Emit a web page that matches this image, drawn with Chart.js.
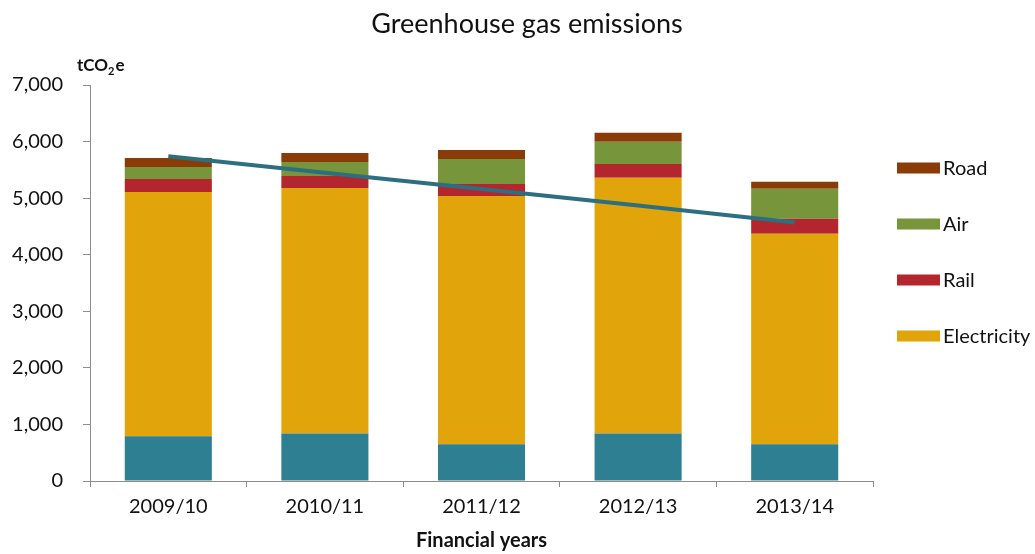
<!DOCTYPE html>
<html>
<head>
<meta charset="utf-8">
<title>Greenhouse gas emissions</title>
<script src="https://cdn.jsdelivr.net/npm/chart.js@4/dist/chart.umd.min.js"></script>
<style>
    html, body {
        margin: 0;
        padding: 0;
        background: #ffffff;
    }
    #chartWrap {
        position: relative;
        width: 1035px;
        height: 554px;
    }
</style>
</head>
<body>
<div id="chartWrap">
    <canvas id="chartCanvas" width="1035" height="554"></canvas>
</div>
<script>
// Emissions by source, tonnes CO2-e per financial year
const years = ['2009/10', '2010/11', '2011/12', '2012/13', '2013/14'];
const gas = [790, 840, 650, 840, 650];
const electricity = [4320, 4340, 4390, 4520, 3720];
const rail = [230, 210, 210, 245, 265];
const air = [210, 250, 440, 390, 530];
const road = [160, 160, 160, 160, 125];
const trend = [5740, 5450, 5160, 4870, 4570];
const yTicks = [0, 1000, 2000, 3000, 4000, 5000, 6000, 7000];

const FONT = 'Lato, "Open Sans", sans-serif';
const AXIS_GREY = '#8c8c8c';
const TEXT = '#111111';

const colors = {
    gas: '#2f7f93',
    electricity: '#e1a40b',
    rail: '#b3262d',
    air: '#77953a',
    road: '#8a3b08',
    trend: '#2c6f80'
};

// Legend lists the transport and electricity series only, top of stack first
const legendItems = [
    { label: 'Road', color: colors.road },
    { label: 'Air', color: colors.air },
    { label: 'Rail', color: colors.rail },
    { label: 'Electricity', color: colors.electricity }
];

// Heading, unit label above the y axis and the side legend
const extrasPlugin = {
    id: 'extras',
    afterDraw(chart) {
        const ctx = chart.ctx;
        const area = chart.chartArea;
        ctx.save();
        ctx.fillStyle = TEXT;

        // heading sits over the whole figure, not just the plot
        ctx.font = '27px ' + FONT;
        ctx.textAlign = 'center';
        ctx.textBaseline = 'middle';
        ctx.fillText('Greenhouse gas emissions', 527, 24);

        // tCO2e with a subscript 2
        ctx.textAlign = 'left';
        ctx.textBaseline = 'alphabetic';
        let x = area.left - 13;
        const base = area.top - 14;
        ctx.font = 'bold 17px ' + FONT;
        ctx.fillText('tCO', x, base);
        x += ctx.measureText('tCO').width;
        ctx.font = 'bold 11px ' + FONT;
        ctx.fillText('2', x, base + 4);
        x += ctx.measureText('2').width + 1;
        ctx.font = 'bold 17px ' + FONT;
        ctx.fillText('e', x, base);

        // legend
        const lx = area.right + 24;
        ctx.font = '20px ' + FONT;
        ctx.textBaseline = 'middle';
        legendItems.forEach((item, i) => {
            const cy = area.top + 83 + i * 56;
            ctx.fillStyle = item.color;
            ctx.fillRect(lx, cy - 5.5, 43, 11);
            ctx.fillStyle = TEXT;
            ctx.fillText(item.label, lx + 46, cy + 1);
        });
        ctx.restore();
    }
};

function barSet(label, data, color) {
    return {
        type: 'bar',
        label: label,
        data: data,
        backgroundColor: color,
        borderWidth: 0,
        stack: 'sources',
        order: 1,
        barPercentage: 0.556,
        categoryPercentage: 1
    };
}

const chart = new Chart(document.getElementById('chartCanvas').getContext('2d'), {
    data: {
        labels: years,
        datasets: [
            {
                type: 'line',
                label: 'Trend',
                data: trend,
                borderColor: colors.trend,
                borderWidth: 4,
                pointRadius: 0,
                tension: 0,
                fill: false,
                stack: 'trend',
                order: 0
            },
            barSet('Gas', gas, colors.gas),
            barSet('Electricity', electricity, colors.electricity),
            barSet('Rail', rail, colors.rail),
            barSet('Air', air, colors.air),
            barSet('Road', road, colors.road)
        ]
    },
    options: {
        responsive: false,
        animation: false,
        layout: {
            padding: { left: 0, right: 162, top: 85, bottom: 0 }
        },
        plugins: {
            legend: { display: false },
            tooltip: { enabled: false },
            title: { display: false }
        },
        scales: {
            x: {
                stacked: true,
                grid: {
                    display: true,
                    drawOnChartArea: false,
                    drawTicks: true,
                    tickLength: 6,
                    color: AXIS_GREY
                },
                border: { color: AXIS_GREY, width: 1 },
                ticks: {
                    color: TEXT,
                    padding: 8,
                    font: { family: FONT, size: 20 }
                },
                title: {
                    display: true,
                    text: 'Financial years',
                    color: TEXT,
                    font: { family: FONT, size: 20, weight: 'bold' },
                    padding: { top: 0, bottom: 1 }
                },
                afterFit(scale) {
                    scale.height = 73;
                }
            },
            y: {
                stacked: true,
                min: 0,
                max: 7000,
                grid: {
                    display: true,
                    drawOnChartArea: false,
                    drawTicks: true,
                    tickLength: 7,
                    color: AXIS_GREY
                },
                border: { color: AXIS_GREY, width: 1 },
                afterBuildTicks(scale) {
                    scale.ticks = yTicks.map(v => ({ value: v }));
                },
                ticks: {
                    color: TEXT,
                    padding: 20,
                    font: { family: FONT, size: 20 },
                    callback: v => v.toLocaleString('en-US')
                },
                afterFit(scale) {
                    scale.width = 90;
                }
            }
        }
    },
    plugins: [extrasPlugin]
});
</script>
</body>
</html>
